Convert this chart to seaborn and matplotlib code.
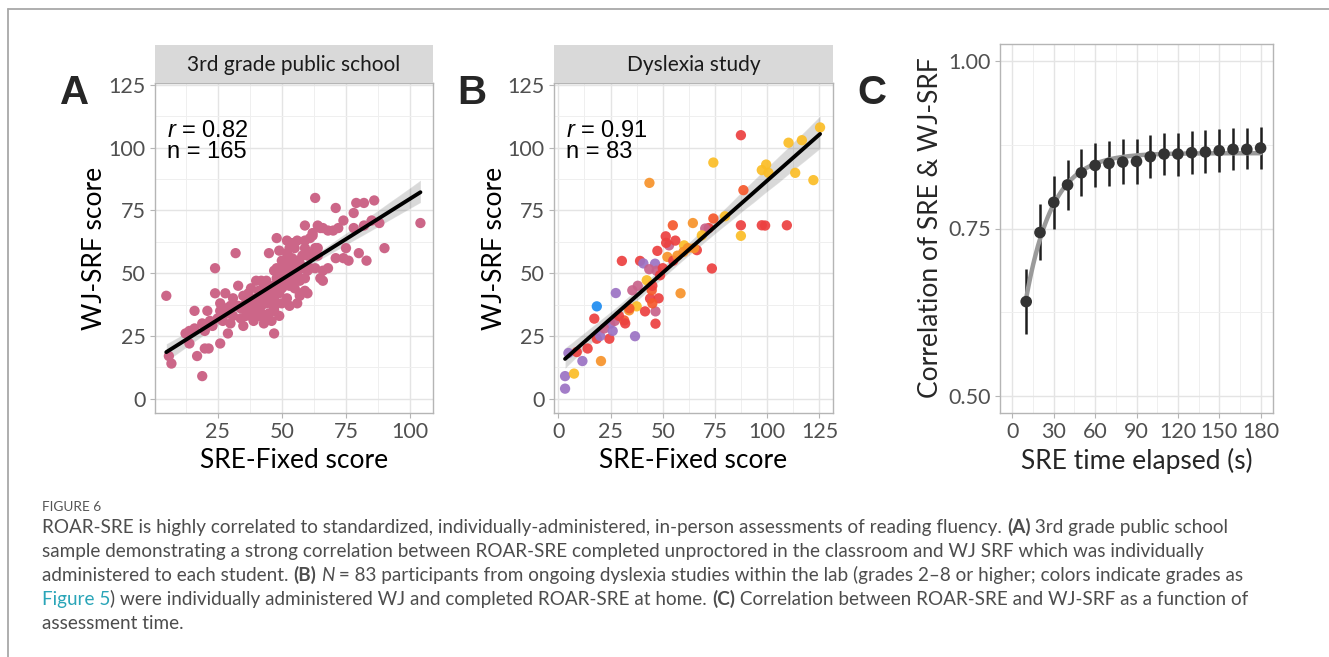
import numpy as np
import pandas as pd
import matplotlib
matplotlib.use("Agg")
import matplotlib.pyplot as plt
import seaborn as sns
from matplotlib.lines import Line2D

# ---------------- data ----------------
# Panel A: 3rd grade public school (SRE-Fixed score vs WJ-SRF score)
a_x = [5, 6, 7, 19, 14, 17, 20, 21.5, 16, 16, 14, 12.5, 19, 20, 22, 21, 24, 24, 26, 26,
       28, 29, 30, 31, 32, 33, 28, 26, 34, 35, 36, 34, 38, 39, 39, 38, 40, 42, 44, 43,
       42, 45, 44, 45, 47, 47, 47, 47, 48, 49, 49, 50, 51, 49, 52, 52, 52, 53, 53, 55,
       56, 56, 56, 57, 57, 57, 59, 59, 59, 60, 60, 59, 62, 62, 63, 64, 63, 64, 65, 65,
       66, 66, 66, 68, 68, 70, 71, 71, 72, 74, 74, 75, 76, 78, 78, 79, 80, 82, 82, 83,
       85, 86, 88, 90, 104,
       36, 37, 38, 40, 40, 41, 41, 42, 43, 43, 44, 44, 45, 45, 46, 46, 46, 47, 47, 48,
       48, 48, 49, 49, 50, 50, 50, 51, 51, 52, 52, 53, 53, 54, 54, 55, 55, 56, 57, 58,
       58, 59, 60, 61, 62, 35, 33, 31, 30, 29, 27, 25, 23, 37, 39, 54, 55, 61, 63, 64]
a_y = [41, 17, 14, 9, 22, 17, 20, 20, 35, 28, 27, 26, 30, 27, 31, 35, 42, 52, 38, 22,
       42, 26, 37, 40, 58, 45, 36, 35, 32, 29, 33, 36, 37, 32, 31, 44, 47, 47, 47, 30,
       37, 34, 38, 58, 26, 35, 36, 51, 64, 42, 33, 55, 49, 59, 63, 58, 40, 37, 53, 47,
       63, 38, 55, 54, 42, 41, 69, 63, 60, 42, 51, 43, 65, 66, 80, 69, 60, 60, 68, 48,
       51, 47, 68, 67, 52, 67, 76, 56, 68, 71, 56, 60, 55, 74, 68, 78, 58, 69, 78, 55,
       71, 79, 70, 60, 70,
       38, 35, 33, 35, 40, 33, 43, 34, 40, 45, 33, 42, 40, 45, 38, 43, 31, 40, 45, 48,
       38, 52, 46, 50, 44, 52, 38, 55, 45, 50, 47, 45, 60, 50, 56, 52, 44, 50, 47, 57,
       52, 48, 57, 52, 58, 41, 37, 33, 30, 34, 31, 32, 29, 42, 38, 62, 60, 64, 52, 57]

# Panel B: dyslexia study, coloured by grade
b_x = [3.2, 3.2, 7.5, 11.5, 20.4, 4.8, 8.8, 18.4, 17.2, 27.5, 30.4, 35.4, 36.7, 24.4, 18.4,
       20, 24.8, 27, 31.5, 33.9, 37.5, 41.5, 46.5, 46.5, 42.3, 43.9, 44.7, 39.1, 40.7, 46.3,
       43.5, 47, 48.7, 52.2, 53, 51.4, 47.4, 58.5, 60.2, 59.9, 87.4, 125.3, 116.6, 110.2, 74.2,
       99.5, 97.4, 100.6, 113.4, 122.1, 43.6, 88.6, 87.4, 97.4, 99, 109.4, 87.4, 74.2, 79.8, 72,
       64.4, 54.8, 70.3, 68.7, 51.6, 66.3, 73.5, 22, 14, 29, 34, 38, 45, 48, 55,
       57, 62, 45, 32, 26, 50, 65, 56]
b_y = [9, 4, 10, 15, 15, 18.2, 18.6, 36.8, 31.9, 42.1, 54.9, 43.2, 24.9, 23.9, 23.9,
       25, 29.9, 31, 31.2, 35.2, 36.8, 34.8, 34.8, 29.9, 47.2, 39.9, 43.2, 54.9, 53.9, 53.8,
       51.6, 51, 49.2, 56.5, 61.1, 64.7, 58.9, 42, 61.1, 58.5, 105, 108.1, 103, 102, 94.1,
       93.3, 91.1, 90, 90, 87.1, 86, 83.1, 69.1, 69.1, 69, 69.1, 64.9, 71.8, 72.7, 68,
       70, 69.1, 67.8, 65.1, 62.1, 59.2, 51.9, 28, 20, 33, 36, 45, 45, 40, 55,
       57, 60, 38, 30, 27, 52, 60, 63]
b_grade = ["3", "3", "8+", "3", "7", "3", "5", "2", "5", "3", "5", "4", "3", "5", "5",
           "3", "3", "4", "6", "7", "8+", "5", "4", "5", "8+", "5", "6", "5", "3", "3",
           "4", "4", "5", "7", "4", "5", "5", "7", "8+", "7", "5", "8+", "8+", "8+", "8+",
           "8+", "8+", "8+", "8+", "8+", "7", "6", "5", "5", "5", "5", "8+", "6", "8+", "5",
           "7", "6", "4", "8+", "5", "5", "5", "4", "5", "5", "6", "4", "5", "5", "5",
           "7", "7", "6", "5", "3", "5", "7", "5"]
grade_order = ["2", "3", "4", "5", "6", "7", "8+"]
grade_colors = ["#1e8cf0", "#9b72c4", "#c8628a", "#ec4040", "#f5582c", "#f7932a", "#fbbd26"]

# Panel C: correlation vs time elapsed
c_time = [10, 20, 30, 40, 50, 60, 70, 80, 90, 100, 110, 120, 130, 140, 150, 160, 170, 180]
c_r = [0.641, 0.744, 0.789, 0.815, 0.833, 0.844, 0.847, 0.849, 0.850, 0.857, 0.861, 0.861,
       0.863, 0.864, 0.866, 0.868, 0.868, 0.870]
c_lo = [0.593, 0.703, 0.750, 0.778, 0.798, 0.812, 0.814, 0.816, 0.817, 0.825, 0.830, 0.828,
        0.831, 0.832, 0.834, 0.837, 0.838, 0.839]
c_hi = [0.689, 0.787, 0.828, 0.852, 0.868, 0.878, 0.880, 0.883, 0.883, 0.889, 0.893, 0.893,
        0.895, 0.897, 0.898, 0.900, 0.900, 0.902]

panel_titles = ["3rd grade public school", "Dyslexia study"]
stats_text = [("0.82", "165"), ("0.91", "83")]

# ---------------- style ----------------
sns.set_theme(style="white")
plt.rcParams['font.family'] = ['Lato', 'DejaVu Sans']
plt.rcParams['mathtext.fontset'] = 'custom'
plt.rcParams['mathtext.it'] = 'Liberation Sans:italic'
plt.rcParams['mathtext.rm'] = 'Liberation Sans'

W, H = 1329, 657
fig = plt.figure(figsize=(W / 100, H / 100), dpi=100)
fig.patch.set_facecolor("white")


def px_axes(l, t, r, b):
    return fig.add_axes([l / W, 1 - b / H, (r - l) / W, (b - t) / H])


TICK_FS = 15.5
LAB_FS = 19
TICK_COL = "#505050"


def style(ax, xmaj, xmin, ymaj, ymin):
    ax.set_xticks(xmaj)
    ax.set_xticks(xmin, minor=True)
    ax.set_yticks(ymaj)
    ax.set_yticks(ymin, minor=True)
    ax.grid(which="major", color="#e4e4e4", lw=1.0)
    ax.grid(which="minor", color="#efefef", lw=0.7)
    ax.set_axisbelow(True)
    for s in ax.spines.values():
        s.set_visible(True)
        s.set_color("#b5b5b5")
        s.set_linewidth(1.0)
    ax.tick_params(which="major", bottom=True, left=True, length=3.8, width=0.8,
                   color="#b5b5b5", labelsize=TICK_FS, labelcolor=TICK_COL, pad=3)
    ax.tick_params(which="minor", length=0)
    ax.set_xlabel("")
    ax.set_ylabel("")


def fig_text(x, y, s, **kw):
    return fig.text(x / W, 1 - y / H, s, **kw)


# figure frame lines (top and left)
fig.add_artist(Line2D([8 / W, 1], [1 - 9 / H, 1 - 9 / H], transform=fig.transFigure,
                      color="#a8a8a8", lw=1.3))
fig.add_artist(Line2D([8 / W, 8 / W], [1 - 9 / H, 0], transform=fig.transFigure,
                      color="#a8a8a8", lw=1.3))

# ---------------- Panel A ----------------
dfa = pd.DataFrame({"sre": a_x, "wj": a_y})
axA = px_axes(155, 83, 433, 413)
sns.scatterplot(data=dfa, x="sre", y="wj", ax=axA, color="#cc6688", s=55,
                edgecolor="none", alpha=1.0, zorder=2)
sns.regplot(data=dfa, x="sre", y="wj", ax=axA, scatter=False, color="black", ci=95,
            truncate=True, line_kws=dict(lw=2.8, zorder=3))
axA.set_xlim(0.6, 108.9)
axA.set_ylim(-5.7, 125.8)
style(axA, [25, 50, 75, 100], [12.5, 37.5, 62.5, 87.5], [0, 25, 50, 75, 100, 125],
      [12.5, 37.5, 62.5, 87.5, 112.5])

# ---------------- Panel B ----------------
dfb = pd.DataFrame({"sre": b_x, "wj": b_y, "grade": b_grade})
axB = px_axes(554, 83, 833, 413)
sns.scatterplot(data=dfb, x="sre", y="wj", hue="grade", hue_order=grade_order,
                palette=grade_colors, ax=axB, s=55, edgecolor="none", alpha=0.92,
                legend=False, zorder=2)
sns.regplot(data=dfb, x="sre", y="wj", ax=axB, scatter=False, color="black", ci=95,
            truncate=True, line_kws=dict(lw=2.8, zorder=3))
axB.set_xlim(-2.1, 131.5)
axB.set_ylim(-5.7, 125.8)
style(axB, [0, 25, 50, 75, 100, 125], [12.5, 37.5, 62.5, 87.5, 112.5],
      [0, 25, 50, 75, 100, 125], [12.5, 37.5, 62.5, 87.5, 112.5])

# strips, stats text, axis labels for A and B
for ax, (l, r), title, (rv, nv), letter_x, letter in [
        (axA, (155, 433), panel_titles[0], stats_text[0], 75, "A"),
        (axB, (554, 833), panel_titles[1], stats_text[1], 472, "B")]:
    sax = px_axes(l, 45, r, 83)
    sax.set_xticks([]); sax.set_yticks([])
    sax.set_facecolor("#d9d9d9")
    for s in sax.spines.values():
        s.set_visible(False)
    sax.text(0.5, 0.47, title, ha="center", va="center", fontsize=15,
             color="#1a1a1a", transform=sax.transAxes)
    fig_text(l + 12, 137, r"$r$ = " + rv, fontsize=17, family="Liberation Sans",
             va="baseline", ha="left", color="black")
    fig_text(l + 12, 158, "n = " + nv, fontsize=17, family="Liberation Sans",
             va="baseline", ha="left", color="black")
    fig_text((l + r) / 2, 460, "SRE-Fixed score", fontsize=LAB_FS, ha="center",
             va="center", color="black")
    fig_text(l - 60, 248, "WJ-SRF score", fontsize=LAB_FS, ha="center", va="center",
             rotation=90, color="black")
    fig_text(letter_x, 93, letter, fontsize=29, family="Liberation Sans",
             fontweight="bold", ha="center", va="center")

# ---------------- Panel C ----------------
dfc = pd.DataFrame({"t": c_time, "r": c_r, "lo": c_lo, "hi": c_hi})
axC = px_axes(1000, 44, 1273, 413)
axC.vlines(dfc["t"], dfc["lo"], dfc["hi"], color="#1e1e1e", lw=1.8, zorder=2)

# smooth saturating fit through the points (like a fitted smoother)
tt = np.asarray(c_time, float)
rr = np.asarray(c_r, float)
best = None
for c in np.linspace(3, 120, 400):
    Xm = np.column_stack([np.ones_like(tt), np.exp(-tt / c)])
    coef, res, *_ = np.linalg.lstsq(Xm, rr, rcond=None)
    err = np.sum((Xm @ coef - rr) ** 2)
    if best is None or err < best[0]:
        best = (err, c, coef)
_, cbest, coefb = best
tgrid = np.linspace(tt.min(), tt.max(), 200)
smooth = pd.DataFrame({"t": tgrid, "r": coefb[0] + coefb[1] * np.exp(-tgrid / cbest)})
sns.lineplot(data=smooth, x="t", y="r", ax=axC, color="#9a9a9a", lw=3.2, zorder=3)
sns.scatterplot(data=dfc, x="t", y="r", ax=axC, color="#333333", s=70,
                edgecolor="none", zorder=4)
axC.set_xlim(-9, 189)
axC.set_ylim(0.475, 1.025)
style(axC, [0, 30, 60, 90, 120, 150, 180], [15, 45, 75, 105, 135, 165],
      [0.50, 0.75, 1.00], [0.625, 0.875])
axC.set_yticklabels(["0.50", "0.75", "1.00"])
fig_text(1137, 461, "SRE time elapsed (s)", fontsize=LAB_FS, ha="center", va="center")
fig_text(930, 228, "Correlation of SRE & WJ-SRF", fontsize=LAB_FS, ha="center",
         va="center", rotation=90)
fig_text(872, 93, "C", fontsize=29, family="Liberation Sans", fontweight="bold",
         ha="center", va="center")

# ---------------- caption ----------------
renderer = fig.canvas.get_renderer()
CAP_FS = 13.6
CAP_COL = "#4d4d4d"
LINK_COL = "#2aa5b8"


def tw(s, **kw):
    t = fig.text(0, 0, s, fontsize=CAP_FS, **kw)
    w = t.get_window_extent(renderer).width
    t.remove()
    return w


def draw_line(y, pieces, x0=42):
    x = x0
    for txt, kw in pieces:
        props = dict(color=kw.get("color", CAP_COL), fontweight=kw.get("weight", "normal"),
                     fontstyle=kw.get("style", "normal"))
        fig.text(x / W, 1 - y / H, txt, fontsize=CAP_FS, va="baseline", ha="left", **props)
        fw = dict(fontweight=props["fontweight"], fontstyle=props["fontstyle"])
        x += tw(txt + "l", **fw) - tw("l", **fw)


fig_text(42, 511, "FIGURE 6", fontsize=9.8, color="#555555", va="baseline", ha="left")
P = {}
B = {"weight": "bold"}
I = {"style": "italic"}
L = {"color": LINK_COL}
draw_line(533, [("ROAR-SRE is highly correlated to standardized, individually-administered, "
                 "in-person assessments of reading fluency. ", P), ("(A)", B),
                (" 3rd grade public school", P)])
draw_line(557, [("sample demonstrating a strong correlation between ROAR-SRE completed "
                 "unproctored in the classroom and WJ SRF which was individually", P)])
draw_line(581, [("administered to each student. ", P), ("(B)", B), (" ", P), ("N", I),
                (" = 83 participants from ongoing dyslexia studies within the lab (grades "
                 "2\u20138 or higher; colors indicate grades as", P)])
draw_line(605, [("Figure 5", L), (") were individually administered WJ and completed "
                                   "ROAR-SRE at home. ", P), ("(C)", B),
                (" Correlation between ROAR-SRE and WJ-SRF as a function of", P)])
draw_line(629, [("assessment time.", P)])

fig.savefig("out.png", dpi=100, facecolor="white")
